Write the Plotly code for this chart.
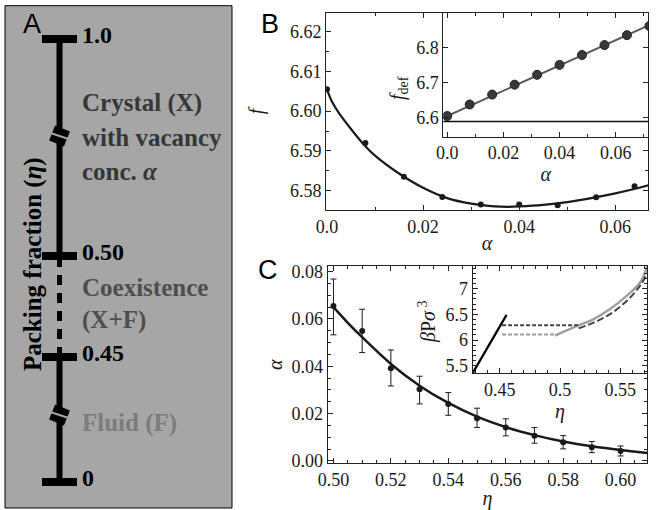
import plotly.graph_objects as go

# ---------------- Panel B data ----------------
alpha_b = [0.0, 0.008, 0.016, 0.024, 0.032, 0.040, 0.048, 0.056, 0.064]
f_b = [6.6055, 6.5920, 6.5835, 6.5784, 6.5765, 6.5765, 6.5763, 6.5783, 6.5811]
alpha_b_fit = [0.0, 0.001, 0.0025, 0.005, 0.0075, 0.01, 0.015, 0.02, 0.025, 0.03,
               0.035, 0.0375, 0.04, 0.045, 0.05, 0.055, 0.06, 0.065, 0.0668]
f_b_fit = [6.6055, 6.6025, 6.5995, 6.5955, 6.5918, 6.5888, 6.5843, 6.5807, 6.5781, 6.5767,
           6.5760, 6.5759, 6.5760, 6.5764, 6.5771, 6.5781, 6.5793, 6.5807, 6.5813]

alpha_def = [0.0, 0.008, 0.016, 0.024, 0.032, 0.040, 0.048, 0.056, 0.064, 0.072]
f_def = [6.6048, 6.6377, 6.6659, 6.6941, 6.7223, 6.7504, 6.7786, 6.8068, 6.8350, 6.8611]
alpha_def_fit = [-0.0014, 0.0715]
f_def_fit = [6.600, 6.862]
f_def_ref = 6.589

# ---------------- Panel C data ----------------
eta_c = [0.50, 0.51, 0.52, 0.53, 0.54, 0.55, 0.56, 0.57, 0.58, 0.59, 0.60]
alpha_c = [0.0655, 0.0549, 0.0392, 0.0303, 0.0241, 0.0180, 0.0141, 0.0106, 0.0079, 0.0058, 0.0042]
alpha_c_hi = [0.0769, 0.0641, 0.0469, 0.0358, 0.0289, 0.0223, 0.0178, 0.0141, 0.0107, 0.0082, 0.0063]
alpha_c_lo = [0.0533, 0.0458, 0.0317, 0.0241, 0.0193, 0.0141, 0.0106, 0.0075, 0.0051, 0.0035, 0.0021]
eta_c_fit = [0.50, 0.505, 0.51, 0.52, 0.53, 0.54, 0.55, 0.56, 0.57, 0.58, 0.59, 0.60, 0.6093]
alpha_c_fit = [0.0650, 0.0584, 0.0523, 0.0410, 0.0318, 0.0245, 0.0187, 0.0143, 0.0109,
               0.0082, 0.0062, 0.0046, 0.0034]

# inset: equation of state
eta_fluid = [0.4275, 0.44, 0.4556]
p_fluid = [5.36, 5.86, 6.49]
eta_coex_dark = [0.4519, 0.5155]
p_coex_dark = [6.29, 6.29]
eta_cryst_dark = [0.5155, 0.528, 0.5419, 0.5558, 0.5669, 0.5725]
p_cryst_dark = [6.23, 6.34, 6.51, 6.77, 7.07, 7.30]
eta_coex_light = [0.4519, 0.496]
p_coex_light = [6.11, 6.11]
eta_cryst_light = [0.496, 0.5142, 0.528, 0.5419, 0.5558, 0.5669, 0.5725]
p_cryst_light = [6.09, 6.276, 6.41, 6.61, 6.87, 7.13, 7.43]

# ---------------- Panel A data ----------------
phase_labels = ["0", "0.45", "0.50", "1.0"]
phase_levels = [26, 151, 252, 469]      # schematic (broken) axis positions
break_levels = [93, 372]

W, H = 660, 510
def px(x0, x1):
    return [x0 / W, x1 / W]
def py(y0, y1):
    return [1 - y1 / H, 1 - y0 / H]

SERIF = "Liberation Serif"
tickfont = dict(family=SERIF, size=18, color="#1a1a1a")
titlefont = dict(family=SERIF, size=20, color="#1a1a1a")

fig = go.Figure()

# ---- Panel A ----
bar_x = 54.5
fig.add_trace(go.Scatter(x=[bar_x, bar_x], y=[phase_levels[0], phase_levels[1]], mode="lines",
                         line=dict(color="black", width=6), xaxis="x4", yaxis="y4"))
fig.add_trace(go.Scatter(x=[bar_x, bar_x], y=[phase_levels[1], phase_levels[2]], mode="lines",
                         line=dict(color="black", width=5, dash="10px,8px"), xaxis="x4", yaxis="y4"))
fig.add_trace(go.Scatter(x=[bar_x, bar_x], y=[phase_levels[2], phase_levels[3]], mode="lines",
                         line=dict(color="black", width=6), xaxis="x4", yaxis="y4"))
fig.add_trace(go.Scatter(x=[bar_x] * 4, y=phase_levels, mode="markers",
                         marker=dict(symbol="line-ew", size=25, line=dict(color="black", width=8)),
                         xaxis="x4", yaxis="y4"))
fig.add_trace(go.Scatter(x=[bar_x] * 2, y=break_levels, mode="markers",
                         marker=dict(symbol="square", size=16, angle=22, color="black"),
                         xaxis="x4", yaxis="y4"))
fig.add_trace(go.Scatter(x=[bar_x] * 2, y=break_levels, mode="markers",
                         marker=dict(symbol="line-ew", size=24, angle=18,
                                     line=dict(color="#a6a6a6", width=2)),
                         xaxis="x4", yaxis="y4"))

# ---- Panel B main ----
fig.add_trace(go.Scatter(x=alpha_b_fit, y=f_b_fit, mode="lines",
                         line=dict(color="#1a1a1a", width=2.2, shape="spline", smoothing=0.8),
                         xaxis="x", yaxis="y"))
fig.add_trace(go.Scatter(x=alpha_b, y=f_b, mode="markers",
                         marker=dict(color="#1a1a1a", size=6), xaxis="x", yaxis="y"))
# ---- Panel B inset ----
fig.add_trace(go.Scatter(x=alpha_def_fit, y=f_def_fit, mode="lines",
                         line=dict(color="#5a5a5a", width=2), xaxis="x2", yaxis="y2"))
fig.add_trace(go.Scatter(x=alpha_def, y=f_def, mode="markers", cliponaxis=True,
                         marker=dict(color="#383838", size=9, line=dict(color="#222", width=1)),
                         xaxis="x2", yaxis="y2"))

# ---- Panel C main ----
err_plus = [h - a for h, a in zip(alpha_c_hi, alpha_c)]
err_minus = [a - l for a, l in zip(alpha_c, alpha_c_lo)]
fig.add_trace(go.Scatter(x=eta_c_fit, y=alpha_c_fit, mode="lines",
                         line=dict(color="#1a1a1a", width=2.5, shape="spline", smoothing=0.8),
                         xaxis="x3", yaxis="y3"))
fig.add_trace(go.Scatter(x=eta_c, y=alpha_c, mode="markers",
                         marker=dict(color="#1a1a1a", size=6),
                         error_y=dict(type="data", symmetric=False, array=err_plus,
                                      arrayminus=err_minus, color="#1a1a1a", thickness=1, width=3),
                         xaxis="x3", yaxis="y3"))
# ---- Panel C inset ----
fig.add_trace(go.Scatter(x=eta_coex_light, y=p_coex_light, mode="lines",
                         line=dict(color="#9a9a9a", width=2, dash="4px,2px"), xaxis="x5", yaxis="y5"))
fig.add_trace(go.Scatter(x=eta_cryst_light, y=p_cryst_light, mode="lines",
                         line=dict(color="#a0a0a0", width=2.5, shape="spline"), xaxis="x5", yaxis="y5"))
fig.add_trace(go.Scatter(x=eta_coex_dark, y=p_coex_dark, mode="lines",
                         line=dict(color="#444444", width=2, dash="4px,2px"), xaxis="x5", yaxis="y5"))
fig.add_trace(go.Scatter(x=eta_cryst_dark, y=p_cryst_dark, mode="lines",
                         line=dict(color="#444444", width=2, dash="7px,3px", shape="spline"),
                         xaxis="x5", yaxis="y5"))
fig.add_trace(go.Scatter(x=eta_fluid, y=p_fluid, mode="lines",
                         line=dict(color="black", width=2.2), xaxis="x5", yaxis="y5"))

def ax(domain, rng, tickvals, ticktext, anchor, minor_dtick=None, title=None, standoff=0):
    d = dict(domain=domain, range=rng, tickmode="array", tickvals=tickvals, ticktext=ticktext,
             anchor=anchor, automargin=False,
             ticks="inside", ticklen=5, tickwidth=1, tickcolor="#222",
             showline=True, linecolor="#222", linewidth=1, mirror="ticks",
             showgrid=False, zeroline=False, tickfont=tickfont, fixedrange=True)
    if minor_dtick:
        d["minor"] = dict(tickmode="linear", dtick=minor_dtick, tick0=0,
                          ticks="inside", ticklen=3, tickcolor="#222", showgrid=False)
    if title:
        d["title"] = dict(text=title, font=titlefont, standoff=standoff)
    return d

bx_ticks = [0.0, 0.02, 0.04, 0.06]
bx_text = ["0.0", "0.02", "0.04", "0.06"]
by_ticks = [6.58, 6.59, 6.60, 6.61, 6.62]
by_text = ["6.58", "6.59", "6.60", "6.61", "6.62"]
biy_ticks = [6.6, 6.7, 6.8]
biy_text = ["6.6", "6.7", "6.8"]
cx_ticks = [0.50, 0.52, 0.54, 0.56, 0.58, 0.60]
cx_text = ["0.50", "0.52", "0.54", "0.56", "0.58", "0.60"]
cy_ticks = [0.0, 0.02, 0.04, 0.06, 0.08]
cy_text = ["0.00", "0.02", "0.04", "0.06", "0.08"]
cix_ticks = [0.45, 0.5, 0.55]
cix_text = ["0.45", "0.5", "0.55"]
ciy_ticks = [5.5, 6.0, 6.5, 7.0]
ciy_text = ["5.5", "6", "6.5", "7"]

fig.update_layout(
    width=W, height=H, margin=dict(l=0, r=0, t=0, b=0, pad=0, autoexpand=False),
    paper_bgcolor="white", plot_bgcolor="white", showlegend=False,
    xaxis=ax(px(326, 648), [-0.0002, 0.0668], bx_ticks, bx_text, "y", 0.01, "<i>α</i>", 0),
    yaxis=ax(py(12.7, 210), [6.5751, 6.6248], by_ticks, by_text, "x", 0.005, "<i>f</i>", 20),
    xaxis2=ax(px(443.3, 648), [-0.0014, 0.0715], bx_ticks, bx_text, "y2", 0.01, "<i>α</i>", 0),
    yaxis2=ax(py(12.7, 136.7), [6.546, 6.899], biy_ticks, biy_text, "x2"),
    xaxis3=ax(px(327.7, 647.3), [0.498, 0.6093], cx_ticks, cx_text, "y3", 0.005, "<i>η</i>", 0),
    yaxis3=ax(py(266, 463.3), [-0.001, 0.0824], cy_ticks, cy_text, "x3", 0.005, "<i>α</i>", 3),
    xaxis5=ax(px(472.7, 647.3), [0.4275, 0.5725], cix_ticks, cix_text, "y5", 0.01, "<i>η</i>", 0),
    yaxis5=ax(py(266, 373.3), [5.356, 7.44], ciy_ticks, ciy_text, "x5", 0.1),
    xaxis4=dict(domain=px(5, 232), range=[0, 227], visible=False, fixedrange=True,
                anchor="y4", automargin=False),
    yaxis4=dict(domain=py(5.7, 508), range=[0, 502.3], visible=False, fixedrange=True,
                anchor="x4", automargin=False),
)

# panel A background box
fig.add_shape(type="rect", xref="x4 domain", yref="y4 domain", x0=0, x1=1, y0=0, y1=1,
              fillcolor="#a6a6a6", line=dict(color="black", width=1), layer="below")
# reference line in inset B
fig.add_shape(type="line", xref="x2 domain", yref="y2", x0=0, x1=1, y0=f_def_ref, y1=f_def_ref,
              line=dict(color="#111", width=1.5))

annots = []
numfont = dict(family=SERIF, size=24, color="black")
for lab, lev in zip(phase_labels, phase_levels):
    annots.append(dict(x=75, y=lev + 4, xref="x4", yref="y4", text="<b>%s</b>" % lab,
                       showarrow=False, xanchor="left", yanchor="middle", font=numfont))
txt = [
    ("<b>Crystal (X)</b>", 405, "#363636"),
    ("<b>with vacancy</b>", 371, "#363636"),
    ("<b>conc. <i>α</i></b>", 337, "#363636"),
    ("<b>Coexistence</b>", 221, "#4e4e4e"),
    ("<b>(X+F)</b>", 188, "#4e4e4e"),
    ("<b>Fluid (F)</b>", 85, "#7c7c7c"),
]
for t, yy, c in txt:
    annots.append(dict(x=75, y=yy, xref="x4", yref="y4", text=t, showarrow=False,
                       xanchor="left", yanchor="middle",
                       font=dict(family=SERIF, size=25, color=c)))
annots.append(dict(x=28, y=244, xref="x4", yref="y4", text="<b>Packing fraction (<i>η</i>)</b>",
                   showarrow=False, textangle=-90, xanchor="center", yanchor="middle",
                   font=dict(family=SERIF, size=25, color="black")))
labfont = dict(family="Liberation Sans", size=27, color="black")
for lab, lx, ly in [("A", 32, 24), ("B", 270, 24), ("C", 268, 270)]:
    annots.append(dict(x=lx / W, y=1 - ly / H, xref="paper", yref="paper", text=lab,
                       showarrow=False, xanchor="center", yanchor="middle", font=labfont))
# inset y-axis titles
for t, lx, ly in [("<i>f</i><sub>def</sub>", 398, 88), ("<i>β</i>P<i>σ</i><sup> 3</sup>", 427, 322)]:
    annots.append(dict(x=lx / W, y=1 - ly / H, xref="paper", yref="paper", text=t,
                       showarrow=False, textangle=-90, xanchor="center", yanchor="middle",
                       font=titlefont))
fig.update_layout(annotations=annots)

fig.write_html("out.html", config={"displayModeBar": False},
               post_script="document.body.style.margin='0px';document.body.style.overflow='hidden';")
